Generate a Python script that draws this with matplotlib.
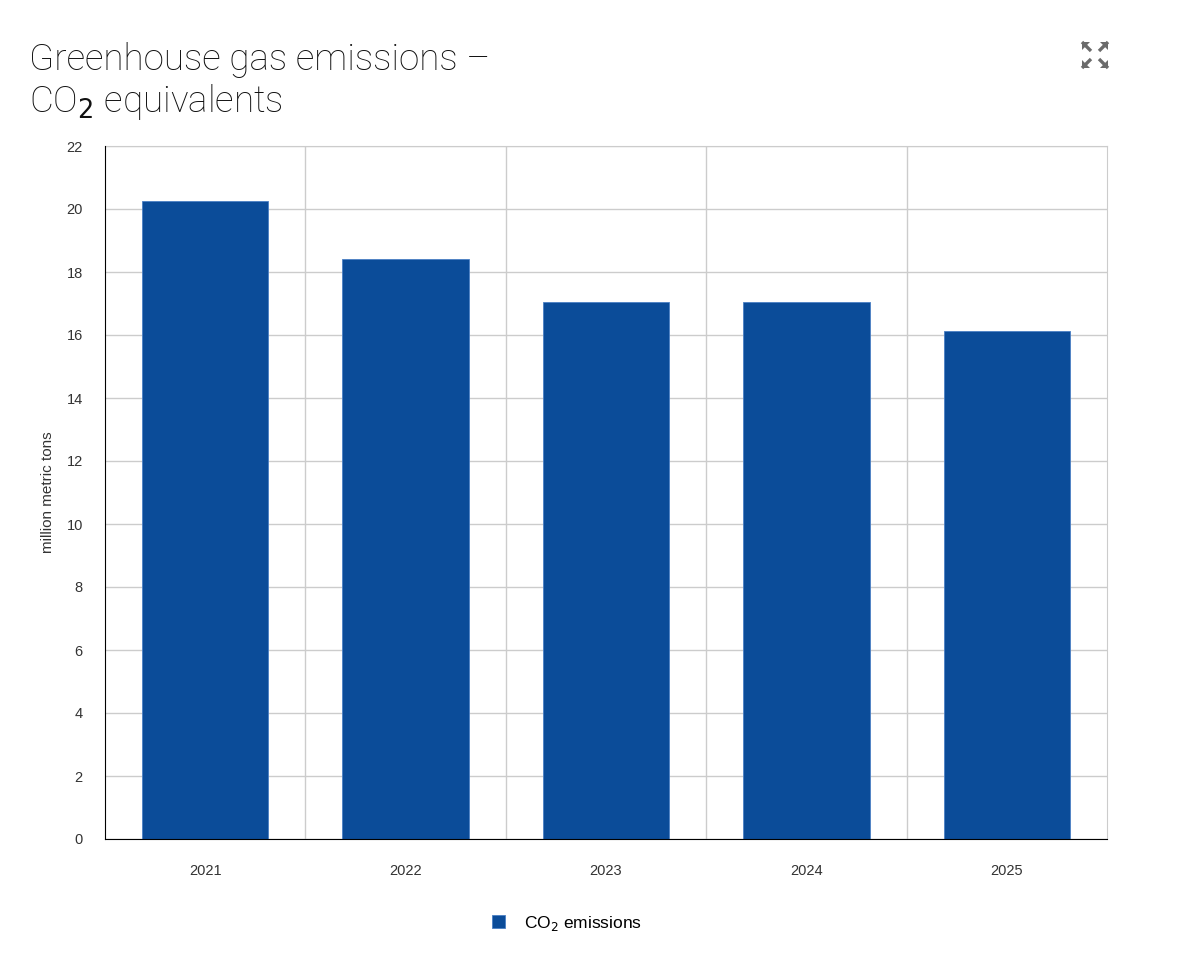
#!/usr/bin/env python3
import numpy as np
import matplotlib
matplotlib.use("Agg")
import matplotlib.pyplot as plt
from matplotlib.patches import Polygon

# data
years = ['2021', '2022', '2023', '2024', '2025']
emissions = [20.24, 18.42, 17.05, 17.05, 16.14]
y_ticks = np.arange(0, 23, 2)

W, H = 1178, 960
plt.rcParams['font.family'] = ['Liberation Sans', 'DejaVu Sans']


def px(x, y):
    """pixel coords (origin top left) -> figure fraction"""
    return (x / W, 1 - y / H)


fig = plt.figure(figsize=(W / 100, H / 100), dpi=100)
ax = fig.add_axes([105 / W, 121 / H, 1002 / W, 693 / H])

x_pos = np.arange(len(years))
ax.bar(x_pos, emissions, 0.63, color='#0b4c99', edgecolor='#4a7fc4',
       linewidth=0.6, zorder=3, label='CO$_2$ emissions')

#
# Axis limits, ticks and grid
ax.set_xlim(-0.5, len(years) - 0.5)
ax.set_ylim(0, 22)
ax.set_yticks(y_ticks)
ax.set_xticks(x_pos)
ax.set_xticklabels(years)
ax.set_xticks(np.arange(0.5, len(years) - 0.5, 1), minor=True)
ax.tick_params(axis='both', which='both', length=0, labelsize=10.5,
               colors='#333333')
ax.tick_params(axis='x', pad=18)
ax.tick_params(axis='y', pad=16)
ax.grid(axis='y', color='#cccccc', linewidth=1, zorder=0)
ax.grid(axis='x', which='minor', color='#cccccc', linewidth=1, zorder=0)

for side in ['top', 'right']:
    ax.spines[side].set_color('#cccccc')
for side in ['left', 'bottom']:
    ax.spines[side].set_color('#000000')
    ax.spines[side].set_zorder(4)

ax.set_ylabel('million metric tons', fontsize=11, color='#333333', labelpad=8)

#
# Title
fig.text(*px(29, 42), 'Greenhouse gas emissions –\nCO$_2$ equivalents',
         fontsize=26.5, ha='left', va='top', linespacing=1.15, color='#111111',
         family=['Roboto', 'DejaVu Sans'], weight='light')

#
# Legend below the chart
ax.legend(loc='upper center', bbox_to_anchor=(0.461, -0.085), frameon=False,
          fontsize=12.5, handlelength=0.75, handleheight=0.75,
          handletextpad=1.1)

#
# Fullscreen icon, top right (four arrows pointing outwards)
cx, cy = 1095, 55
for sx, sy in [(-1, -1), (1, -1), (-1, 1), (1, 1)]:
    ox, oy = cx + sx * 13, cy + sy * 13
    head = [px(ox, oy), px(ox - sx * 8, oy), px(ox, oy - sy * 8)]
    fig.add_artist(Polygon(head, closed=True, transform=fig.transFigure,
                           color='#6b6b6b', lw=0))
    fig.add_artist(plt.Line2D([ox / W, (ox - sx * 9) / W],
                              [1 - oy / H, 1 - (oy - sy * 9) / H],
                              transform=fig.transFigure, color='#6b6b6b',
                              lw=2.4, solid_capstyle='butt'))

fig.savefig('out.png', dpi=100)
